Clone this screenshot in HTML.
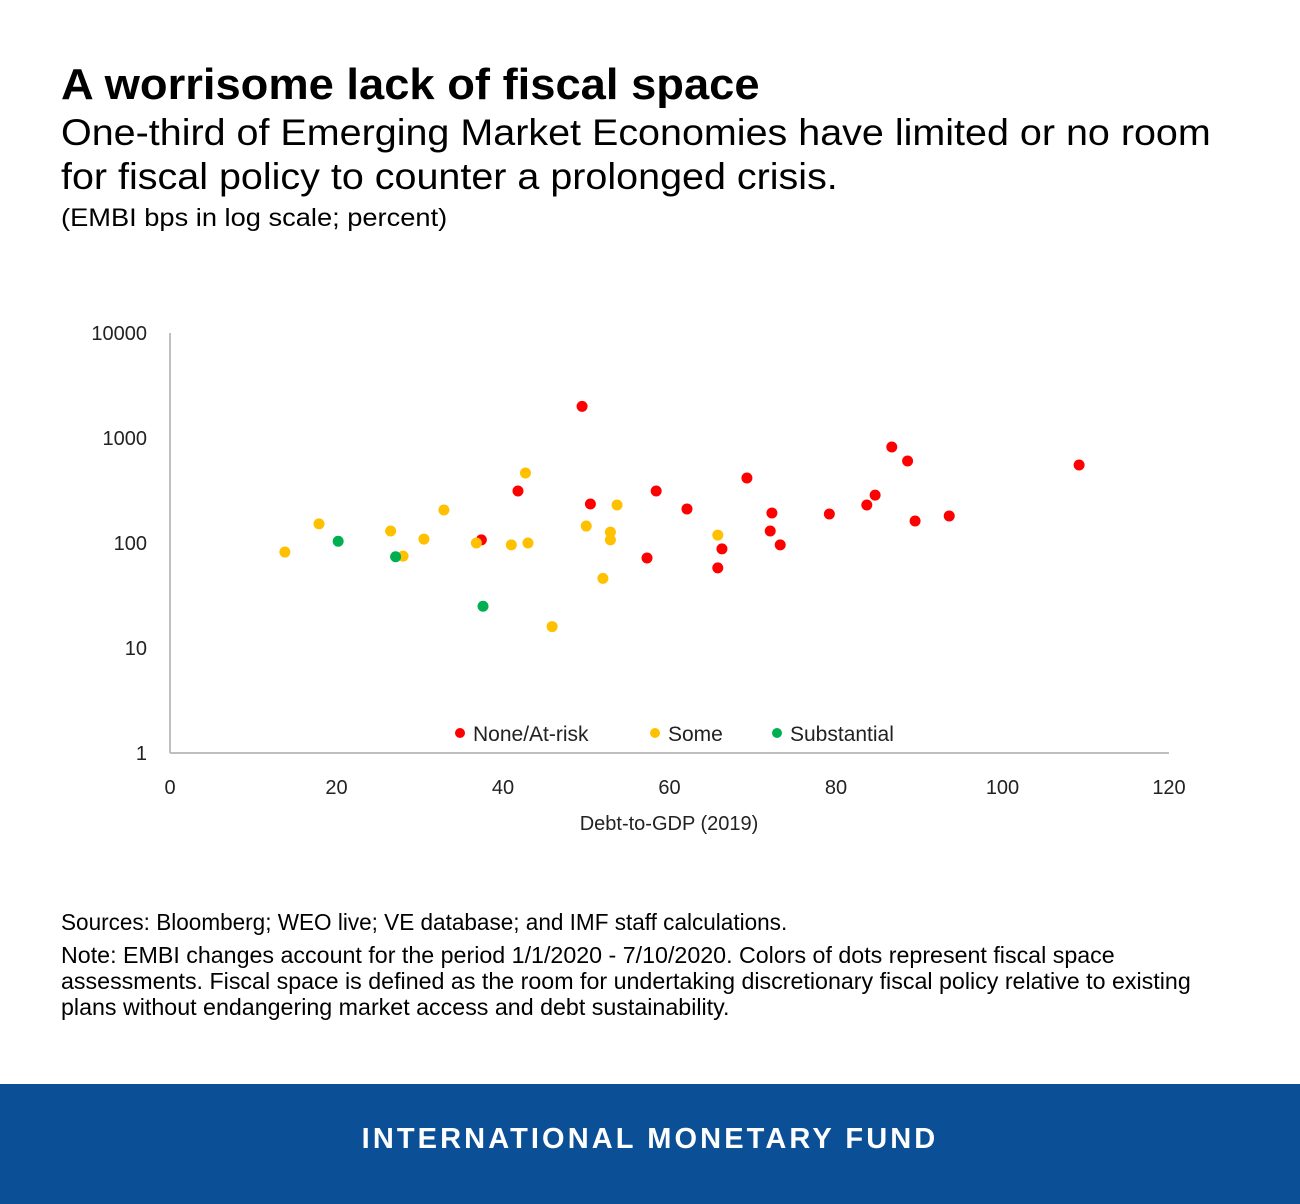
<!DOCTYPE html>
<html><head><meta charset="utf-8">
<style>
body{margin:0;width:1300px;height:1204px;background:#fff;font-family:"Liberation Sans",sans-serif;position:relative;overflow:hidden;color:#000}
.t{position:absolute;left:61px;white-space:nowrap;transform-origin:left}
</style></head><body>
<div class="t" style="top:60px;font-size:44px;font-weight:bold;transform:scaleX(1.03)">A worrisome lack of fiscal space</div>
<div class="t" style="top:111px;font-size:37px;line-height:44px;transform:scaleX(1.067)">One-third of Emerging Market Economies have limited or no room<br>for fiscal policy to counter a prolonged crisis.</div>
<div class="t" style="top:204px;font-size:25px;transform:scaleX(1.09)">(EMBI bps in log scale; percent)</div>
<svg id="chart" width="1300" height="880" style="position:absolute;left:0;top:0" font-family="Liberation Sans, sans-serif"></svg>
<div class="t" style="top:909px;font-size:23px;line-height:26px;transform:scaleX(0.98)">Sources: Bloomberg; WEO live; VE database; and IMF staff calculations.</div>
<div class="t" style="top:942px;font-size:23px;line-height:26px;transform:scaleX(1.01)">Note: EMBI changes account for the period 1/1/2020 - 7/10/2020. Colors of dots represent fiscal space<br>assessments. Fiscal space is defined as the room for undertaking discretionary fiscal policy relative to existing<br>plans without endangering market access and debt sustainability.</div>
<div style="position:absolute;left:0;top:1084px;width:1300px;height:120px;background:#0b4f96;color:#fff;font-size:29px;font-weight:bold;letter-spacing:3.1px;text-align:center;line-height:110px">INTERNATIONAL MONETARY FUND</div>
<script>
const redX=[49.5,86.7,88.6,109.2,69.3,41.8,58.4,84.7,50.5,83.7,62.1,72.3,79.2,93.6,89.5,72.1,37.4,73.3,66.3,57.3,65.8];
const redY=[2000,821,604,553,416,313,313,286,235,230,211,193,189,181,162,130,107,96,88,72,58];
const someX=[13.8,17.9,26.5,28.0,30.5,32.9,36.8,41.0,43.0,42.7,50.0,52.9,52.9,53.7,52.0,45.9,65.8];
const someY=[82,152,130,75,109,206,100,96,100,464,145,127,107,230,46,16,119];
const subX=[20.2,27.1,37.6];
const subY=[104,74,25];
const xTicks=[0,20,40,60,80,100,120];
const yTicks=[1,10,100,1000,10000];
const NS="http://www.w3.org/2000/svg";
const svg=document.getElementById('chart');
const x=v=>170+v*(999/120);
const y=v=>753-Math.log10(v)*105;
function mk(t,a,txt){const e=document.createElementNS(NS,t);for(const k in a)e.setAttribute(k,a[k]);if(txt!==undefined)e.textContent=txt;svg.appendChild(e);return e;}
let e=mk('line',{x1:170,y1:333,x2:170,y2:753,stroke:'#bfbfbf','stroke-width':2});


e=mk('line',{x1:170,y1:753,x2:1169,y2:753,stroke:'#bfbfbf','stroke-width':2});


xTicks.forEach(v=>{const t=mk('text',{x:x(v),y:794,'text-anchor':'middle','font-size':20,fill:'#222'},v);

});
yTicks.forEach(v=>{const t=mk('text',{x:147,y:y(v)+7,'text-anchor':'end','font-size':20,fill:'#222'},v);

});
e=mk('text',{x:669,y:830,'text-anchor':'middle','font-size':20,fill:'#222'},'Debt-to-GDP (2019)');


function series(X,Y,c,n){X.forEach((v,i)=>{const d=mk('circle',{cx:x(v),cy:y(Y[i]),r:5.5,fill:c});

});}
series(redX,redY,'#ff0000','dot-none-at-risk');
series(someX,someY,'#ffc000','dot-some');
series(subX,subY,'#00b050','dot-substantial');
[['None/At-risk','#ff0000',460],['Some','#ffc000',655],['Substantial','#00b050',777]].forEach(l=>{
const c=mk('circle',{cx:l[2],cy:733,r:5,fill:l[1]});


const t=mk('text',{x:l[2]+13,y:741,'font-size':21,fill:'#222'},l[0]);

});
</script>
</body></html>
